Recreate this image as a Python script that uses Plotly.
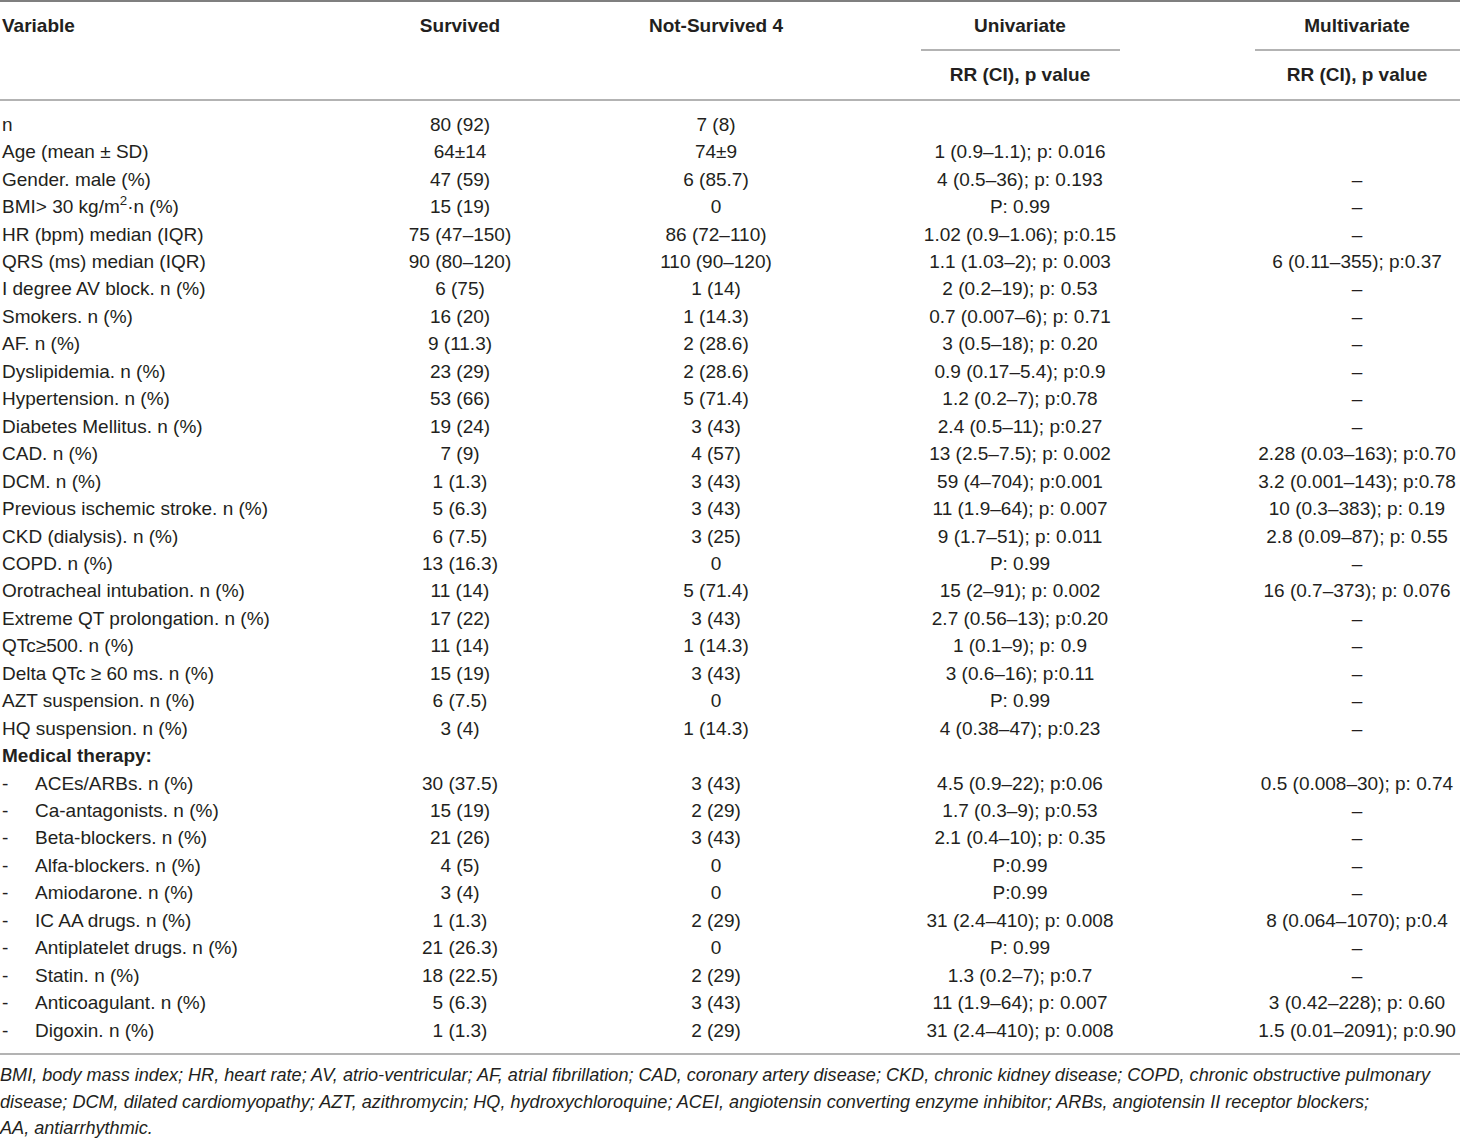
import plotly.graph_objects as go

# Table content
header_cols = ["Variable", "Survived", "Not-Survived 4", "Univariate", "Multivariate"]
sub_header = "RR (CI), p value"

variables = [
    "n", "Age (mean ± SD)", "Gender. male (%)", "BMI> 30 kg/m<sup>2</sup>·n (%)",
    "HR (bpm) median (IQR)", "QRS (ms) median (IQR)", "I degree AV block. n (%)",
    "Smokers. n (%)", "AF. n (%)", "Dyslipidemia. n (%)", "Hypertension. n (%)",
    "Diabetes Mellitus. n (%)", "CAD. n (%)", "DCM. n (%)",
    "Previous ischemic stroke. n (%)", "CKD (dialysis). n (%)", "COPD. n (%)",
    "Orotracheal intubation. n (%)", "Extreme QT prolongation. n (%)",
    "QTc≥500. n (%)", "Delta QTc ≥ 60 ms. n (%)", "AZT suspension. n (%)",
    "HQ suspension. n (%)",
]
survived = [
    "80 (92)", "64±14", "47 (59)", "15 (19)", "75 (47–150)", "90 (80–120)",
    "6 (75)", "16 (20)", "9 (11.3)", "23 (29)", "53 (66)", "19 (24)", "7 (9)",
    "1 (1.3)", "5 (6.3)", "6 (7.5)", "13 (16.3)", "11 (14)", "17 (22)",
    "11 (14)", "15 (19)", "6 (7.5)", "3 (4)",
]
not_survived = [
    "7 (8)", "74±9", "6 (85.7)", "0", "86 (72–110)", "110 (90–120)", "1 (14)",
    "1 (14.3)", "2 (28.6)", "2 (28.6)", "5 (71.4)", "3 (43)", "4 (57)",
    "3 (43)", "3 (43)", "3 (25)", "0", "5 (71.4)", "3 (43)", "1 (14.3)",
    "3 (43)", "0", "1 (14.3)",
]
univariate = [
    "", "1 (0.9–1.1); p: 0.016", "4 (0.5–36); p: 0.193", "P: 0.99",
    "1.02 (0.9–1.06); p:0.15", "1.1 (1.03–2); p: 0.003", "2 (0.2–19); p: 0.53",
    "0.7 (0.007–6); p: 0.71", "3 (0.5–18); p: 0.20", "0.9 (0.17–5.4); p:0.9",
    "1.2 (0.2–7); p:0.78", "2.4 (0.5–11); p:0.27", "13 (2.5–7.5); p: 0.002",
    "59 (4–704); p:0.001", "11 (1.9–64); p: 0.007", "9 (1.7–51); p: 0.011",
    "P: 0.99", "15 (2–91); p: 0.002", "2.7 (0.56–13); p:0.20",
    "1 (0.1–9); p: 0.9", "3 (0.6–16); p:0.11", "P: 0.99", "4 (0.38–47); p:0.23",
]
multivariate = [
    "", "", "–", "–", "–", "6 (0.11–355); p:0.37", "–", "–", "–", "–", "–", "–",
    "2.28 (0.03–163); p:0.70", "3.2 (0.001–143); p:0.78", "10 (0.3–383); p: 0.19",
    "2.8 (0.09–87); p: 0.55", "–", "16 (0.7–373); p: 0.076", "–", "–", "–", "–", "–",
]

therapy_title = "Medical therapy:"
therapy_vars = [
    "ACEs/ARBs. n (%)", "Ca-antagonists. n (%)", "Beta-blockers. n (%)",
    "Alfa-blockers. n (%)", "Amiodarone. n (%)", "IC AA drugs. n (%)",
    "Antiplatelet drugs. n (%)", "Statin. n (%)", "Anticoagulant. n (%)",
    "Digoxin. n (%)",
]
therapy_survived = ["30 (37.5)", "15 (19)", "21 (26)", "4 (5)", "3 (4)",
                    "1 (1.3)", "21 (26.3)", "18 (22.5)", "5 (6.3)", "1 (1.3)"]
therapy_not_survived = ["3 (43)", "2 (29)", "3 (43)", "0", "0", "2 (29)", "0",
                        "2 (29)", "3 (43)", "2 (29)"]
therapy_univariate = [
    "4.5 (0.9–22); p:0.06", "1.7 (0.3–9); p:0.53", "2.1 (0.4–10); p: 0.35",
    "P:0.99", "P:0.99", "31 (2.4–410); p: 0.008", "P: 0.99", "1.3 (0.2–7); p:0.7",
    "11 (1.9–64); p: 0.007", "31 (2.4–410); p: 0.008",
]
therapy_multivariate = [
    "0.5 (0.008–30); p: 0.74", "–", "–", "–", "–", "8 (0.064–1070); p:0.4", "–",
    "–", "3 (0.42–228); p: 0.60", "1.5 (0.01–2091); p:0.90",
]

footnote_lines = [
    "BMI, body mass index; HR, heart rate; AV, atrio-ventricular; AF, atrial fibrillation; "
    "CAD, coronary artery disease; CKD, chronic kidney disease; COPD, chronic obstructive pulmonary",
    "disease; DCM, dilated cardiomyopathy; AZT, azithromycin; HQ, hydroxychloroquine; "
    "ACEI, angiotensin converting enzyme inhibitor; ARBs, angiotensin II receptor blockers;",
    "AA, antiarrhythmic.",
]

# Layout geometry (pixel-like axis units)
W, H = 1460, 1138
ROW_TOP = 126
ROW_STEP = 27.45
X_VAR = 2
X_INDENT = 35
X_SURV = 460
X_NOT = 716
X_UNI = 1020
X_MULTI = 1357
TEXT = "#231f20"
FONT = "Liberation Sans, Arial, sans-serif"
FS = 19

n_base = len(variables)
base_y = [ROW_TOP + i * ROW_STEP for i in range(n_base)]
title_y = ROW_TOP + n_base * ROW_STEP
ther_y = [ROW_TOP + (n_base + 1 + i) * ROW_STEP for i in range(len(therapy_vars))]
all_y = base_y + ther_y

fig = go.Figure()


def add_text(xs, ys, texts, pos, size=FS, family=FONT):
    # skip empty cells
    keep = [(x, y, t) for x, y, t in zip(xs, ys, texts) if t]
    fig.add_trace(go.Scatter(
        x=[k[0] for k in keep], y=[k[1] for k in keep], text=[k[2] for k in keep],
        mode="text", textposition=pos,
        textfont=dict(family=family, size=size, color=TEXT),
        hoverinfo="skip", showlegend=False, cliponaxis=False,
    ))


# Headers
add_text([X_VAR], [27], ["<b>" + header_cols[0] + "</b>"], "middle right")
add_text([X_SURV, X_NOT, X_UNI, X_MULTI], [27] * 4,
         ["<b>" + h + "</b>" for h in header_cols[1:]], "middle center")
add_text([X_UNI, X_MULTI], [76, 76], ["<b>" + sub_header + "</b>"] * 2, "middle center")

# Variable names
add_text([X_VAR] * n_base, base_y, variables, "middle right")
add_text([X_VAR], [title_y], ["<b>" + therapy_title + "</b>"], "middle right")
add_text([X_VAR] * len(therapy_vars), ther_y, ["-"] * len(therapy_vars), "middle right")
add_text([X_INDENT] * len(therapy_vars), ther_y, therapy_vars, "middle right")

# Value columns
add_text([X_SURV] * len(all_y), all_y, survived + therapy_survived, "middle center")
add_text([X_NOT] * len(all_y), all_y, not_survived + therapy_not_survived, "middle center")
add_text([X_UNI] * len(all_y), all_y, univariate + therapy_univariate, "middle center")
add_text([X_MULTI] * len(all_y), all_y, multivariate + therapy_multivariate, "middle center")

# Footnote
foot_y = [1076, 1103, 1129]
add_text([0] * 3, foot_y, ["<i>" + t + "</i>" for t in footnote_lines], "middle right", size=18.1)

# Rules
rules = [
    (0, W, 1, "#555555", 1.5),
    (921, 1120, 50, "#9a9a9a", 1.5),
    (1255, W, 50, "#9a9a9a", 1.5),
    (0, W, 100, "#9a9a9a", 1.5),
    (0, W, 1054, "#9a9a9a", 1.5),
]
for x0, x1, y, color, lw in rules:
    fig.add_shape(type="line", xref="x", yref="y", x0=x0, x1=x1, y0=y, y1=y,
                  line=dict(color=color, width=lw))

fig.update_layout(
    width=W, height=H,
    margin=dict(l=0, r=0, t=0, b=0),
    paper_bgcolor="white", plot_bgcolor="white",
    xaxis=dict(range=[0, W], visible=False, fixedrange=True),
    yaxis=dict(range=[H, 0], visible=False, fixedrange=True),
)

# drop the browser's default body margin so the figure fills the window
fig.write_html("out.html", config={"displayModeBar": False},
               post_script="document.body.style.margin='0';")
